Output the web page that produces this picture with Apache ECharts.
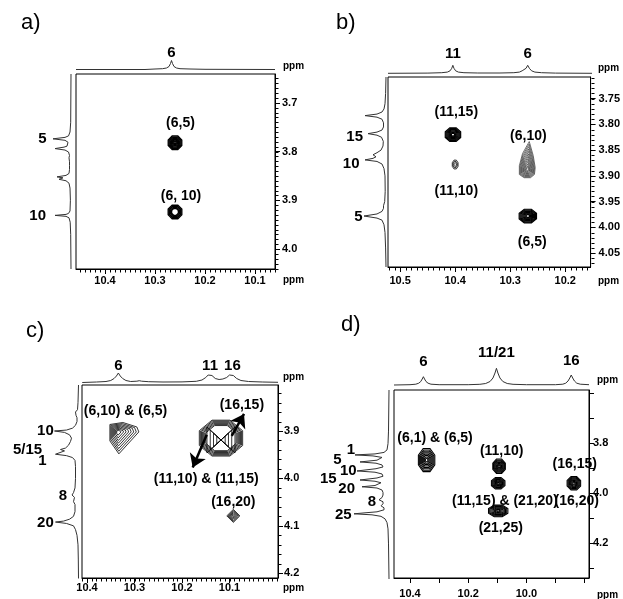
<!DOCTYPE html>
<html><head><meta charset="utf-8">
<script src="https://cdn.jsdelivr.net/npm/echarts@6/dist/echarts.min.js"></script>
<style>html,body{margin:0;padding:0;background:#fff}#c{width:623px;height:599px}</style>
</head><body><div id="c"></div>
<script>
// ================= DATA =================
// ---- panel a ----
const aXTickLabels = [10.4, 10.3, 10.2, 10.1];
const aYTickLabels = [3.7, 3.8, 3.9, 4.0];
const aTopSpectrum = [[10.458,0],[10.32,0],[10.30,0.5],[10.285,0.8],[10.277,1.5],[10.272,3],[10.269,6],[10.267,9],[10.265,6],[10.262,3],[10.257,1.5],[10.25,0.8],[10.23,0.5],[10.20,0.2],[10.06,0]];
const aLeftSpectrum = [[3.641,0],[3.74,0.3],[3.76,1],[3.768,2.5],[3.771,6],[3.774,18],[3.777,6],[3.781,3],[3.785,2.5],[3.789,4],[3.791,7],[3.794,16],[3.797,6],[3.801,2.5],[3.808,1.5],[3.813,2],[3.817,3],[3.821,1.5],[3.829,1.5],[3.833,3],[3.837,1.5],[3.845,2],[3.849,5],[3.852,14],[3.854,8],[3.857,12],[3.860,5],[3.865,2],[3.875,1],[3.90,0.6],[3.922,1],[3.927,2.5],[3.929,5],[3.931,16],[3.933,5],[3.936,2],[3.945,0.8],[3.97,0.3],[4.041,0]];
const aTopPeakLabels = [['6', 10.267]];
const aLeftPeakLabels = [['5', 3.774], ['10', 3.931]];
const aCrossPeaks = [[10.26, 3.782, 0.014, 0.0143], [10.26, 3.924, 0.014, 0.0143]];
const aAnnotations = [['(6,5)', 10.249, 3.742], ['(6, 10)', 10.248, 3.892]];

// ---- panel b ----
const bXTickLabels = [10.5, 10.4, 10.3, 10.2];
const bYTickLabels = [3.75, 3.80, 3.85, 3.90, 3.95, 4.00, 4.05];
const bTopSpectrum = [[10.522,0],[10.45,0.2],[10.425,0.6],[10.415,1.2],[10.41,2.5],[10.407,5],[10.405,8],[10.403,5],[10.40,2.5],[10.395,1.2],[10.385,0.6],[10.36,0.3],[10.32,0.3],[10.295,0.6],[10.285,1.2],[10.28,2.5],[10.273,5],[10.27,8],[10.267,5],[10.263,2.5],[10.257,1.2],[10.245,0.6],[10.22,0.2],[10.154,0]];
const bLeftSpectrum = [[3.708,0],[3.74,0.4],[3.76,1],[3.770,2],[3.776,4],[3.780,9],[3.783,21],[3.786,9],[3.790,4],[3.797,2.5],[3.805,2.5],[3.811,4],[3.815,9],[3.818,18],[3.821,9],[3.825,4.5],[3.833,2.7],[3.842,3],[3.850,5],[3.855,9],[3.859,13],[3.863,10],[3.866,13],[3.869,21],[3.872,9],[3.877,4],[3.886,2],[3.90,1],[3.93,0.8],[3.95,1.3],[3.958,2.5],[3.963,2.5],[3.969,4],[3.974,9],[3.978,22],[3.982,9],[3.986,4],[3.995,2],[4.01,1],[4.04,0.4],[4.077,0]];
const bTopPeakLabels = [['11', 10.405], ['6', 10.27]];
const bLeftPeakLabels = [['15', 3.824], ['10', 3.877], ['5', 3.979]];
const bCrossPeaks = [[10.404, 3.82, 0.0144, 0.0136], [10.40, 3.878, 0.0054, 0.0088], [10.269, 3.888, 0.0144, 0.0156], [10.268, 3.978, 0.0162, 0.0136]];
const bAnnotations = [['(11,15)', 10.398, 3.777], ['(6,10)', 10.267, 3.822], ['(11,10)', 10.398, 3.929], ['(6,5)', 10.260, 4.029]];

// ---- panel c ----
const cXTickLabels = [10.4, 10.3, 10.2, 10.1];
const cYTickLabels = [3.9, 4.0, 4.1, 4.2];
const cTopSpectrum = [[10.41,0],[10.38,0.5],[10.36,1],[10.35,2],[10.343,4],[10.338,6.5],[10.334,9.5],[10.330,6.5],[10.325,4],[10.318,2],[10.308,1],[10.295,1.3],[10.29,1.8],[10.285,1.3],[10.27,0.8],[10.24,0.5],[10.20,0.6],[10.17,1.2],[10.158,2.5],[10.150,5],[10.145,7.5],[10.141,9.5],[10.137,7],[10.130,4],[10.122,3],[10.114,3.5],[10.106,5],[10.100,7.5],[10.096,9.5],[10.092,7],[10.085,4],[10.076,2],[10.06,1],[10.03,0.5],[9.998,0.2]];
const cLeftSpectrum = [[3.803,0],[3.84,0.5],[3.855,1],[3.860,3],[3.863,5],[3.867,2.5],[3.872,1.5],[3.880,1.5],[3.888,3],[3.894,6],[3.898,12],[3.900,24],[3.903,14],[3.908,9],[3.915,7],[3.922,8],[3.930,10],[3.936,13],[3.939,18],[3.942,14],[3.944,12],[3.946,15],[3.949,23],[3.952,12],[3.956,6],[3.962,3.5],[3.975,3],[4.00,3],[4.02,3.5],[4.030,5],[4.035,6.5],[4.040,4],[4.044,4],[4.049,5],[4.055,3.5],[4.070,3.5],[4.080,5],[4.086,9],[4.090,15],[4.092,23],[4.095,12],[4.100,5],[4.108,3],[4.12,1.5],[4.14,0.5],[4.17,0.2],[4.211,0]];
const cTopPeakLabels = [['6', 10.334], ['11', 10.141], ['16', 10.094]];
const cLeftPeakLabels = [['10', 3.90], ['5/15', 3.940], ['1', 3.963], ['8', 4.037], ['20', 4.094]];
const cCrossPeaks = [[10.335, 3.902, 0.021, 0.021], [10.118, 3.915, 0.047, 0.039], [10.118, 3.919, 0.0295, 0.0274], [10.118, 3.919, 0.0295, 0.0274], [10.092, 4.079, 0.0137, 0.0137]];
const cAnnotations = [['(6,10) & (6,5)', 10.319, 3.858], ['(16,15)', 10.074, 3.846], ['(11,10) & (11,15)', 10.149, 4.001], ['(16,20)', 10.092, 4.051]];
const cArrows = [[10.0954, 3.9105, 10.0695, 3.864], [10.148, 3.908, 10.1775, 3.977]];

// ---- panel d ----
const dXTickLabels = [10.4, 10.2, 10.0];
const dYTickLabels = [3.8, 4.0, 4.2];
const dXTicks = [9.8, 9.9, 10.0, 10.1, 10.2, 10.3, 10.4];
const dYTicks = [3.6, 3.7, 3.8, 3.9, 4.0, 4.1, 4.2, 4.3];
const dTopSpectrum = [[10.455,0],[10.40,0.3],[10.38,0.8],[10.37,1.8],[10.363,3.5],[10.358,6],[10.354,8.3],[10.350,6],[10.345,3.5],[10.338,1.8],[10.328,0.8],[10.30,0.3],[10.20,0.3],[10.16,0.7],[10.14,1.5],[10.125,3.5],[10.115,7],[10.108,12],[10.103,16.7],[10.098,12],[10.091,7],[10.081,3.5],[10.066,1.5],[10.046,0.7],[10.00,0.3],[9.90,0.3],[9.875,0.8],[9.865,1.8],[9.857,4],[9.851,7],[9.846,10],[9.841,7],[9.835,4],[9.827,1.8],[9.815,0.8],[9.785,0.3]];
const dLeftSpectrum = [[3.586,0],[3.75,0.5],[3.80,1],[3.825,2],[3.835,5],[3.841,14],[3.845,34],[3.849,16],[3.855,7],[3.861,6],[3.866,12],[3.873,29],[3.878,13],[3.885,7],[3.893,6],[3.900,13],[3.909,32],[3.914,14],[3.921,7],[3.930,6],[3.937,12],[3.945,29],[3.950,14],[3.956,8],[3.962,9],[3.967,14],[3.972,27],[3.977,12],[3.985,7],[3.995,6],[4.005,6],[4.015,7],[4.024,10],[4.032,6],[4.040,6],[4.048,8],[4.056,5],[4.064,5],[4.072,12],[4.076,24],[4.080,35],[4.084,17],[4.090,8],[4.100,4],[4.115,2],[4.14,1],[4.20,0.5],[4.34,0]];
const dTopPeakLabels = [['6', 10.354], ['11/21', 10.103], ['16', 9.846]];
const dLeftPeakLabels = [['1', 3.825], ['5', 3.865], ['10', 3.908], ['15', 3.941], ['20', 3.980], ['8', 4.034], ['25', 4.084]];
const dCrossPeaks = [[10.343, 3.867, 0.0291, 0.0478], [10.094, 3.892, 0.0223, 0.0299], [10.097, 3.96, 0.024, 0.0239], [10.097, 4.071, 0.0343, 0.0239], [9.837, 3.96, 0.024, 0.0279]];
const dAnnotations = [['(6,1) & (6,5)', 10.314, 3.779], ['(11,10)', 10.085, 3.832], ['(16,15)', 9.834, 3.885], ['(11,15) & (21,20)', 10.074, 4.031], ['(16,20)', 9.827, 4.031], ['(21,25)', 10.088, 4.141]];

// ================= STYLE / LAYOUT =================
const FONT = "'Liberation Sans', Arial, Helvetica, sans-serif";
const oct = []; for (let k = 0; k < 8; k++) { const a = (k * 45 + 22.5) * Math.PI / 180; oct.push([1.05 * Math.cos(a), 1.05 * Math.sin(a)]); }
const templates = {
  oct: oct,
  drop: [[0.25,-3.5],[0.75,-1.75],[1,-0.25],[0.9,0.6],[0.4,1],[-0.4,1],[-1,0.6],[-1,-0.5],[-0.6,-2]],
  shield: [[-0.8,-0.75],[0.5,-0.95],[1.9,-0.5],[2.1,0],[0.1,2.2],[-0.8,0.9]],
  diamond: [[0,-1],[1,0],[0,1],[-1,0]],
  wedgeL: [[0,0],[-1,-1],[-1,1]],
  wedgeR: [[0,0],[1,-1],[1,1]]
};
const panels = [
  { // a
    box: {left: 76, top: 74, width: 199, height: 195}, xRange: [10.06, 10.458], yRange: [3.641, 4.041],
    xLabels: aXTickLabels, yLabels: aYTickLabels, xDec: 1, yDec: 1, xMinor: 0.01, yMinor: 0.01, xMargin: 6, yMargin: 7,
    top: {top: 59.5, height: 10, max: 10, data: aTopSpectrum, labels: aTopPeakLabels, dist: [9]},
    left: {left: 50, width: 21, max: 21, data: aLeftSpectrum, labels: aLeftPeakLabels, dist: [24.5, 25]},
    peaks: aCrossPeaks, styles: [{shape:'oct', n:8, min:0.15, lw:1.3}, {shape:'oct', n:4, min:0.5, lw:1.4}],
    ann: aAnnotations, arrows: []
  },
  { // b
    box: {left: 388, top: 77, width: 204, height: 190}, xRange: [10.154, 10.522], yRange: [3.708, 4.077],
    xLabels: bXTickLabels, yLabels: bYTickLabels, xDec: 1, yDec: 2, xMinor: 0.01, yMinor: 0.01, xMargin: 8, yMargin: 8,
    top: {top: 64.3, height: 9, max: 9, data: bTopSpectrum, labels: bTopPeakLabels, dist: [11.5, 11.5]},
    left: {left: 362, width: 24, max: 24, data: bLeftSpectrum, labels: bLeftPeakLabels, dist: [23, 26.5, 23.5]},
    peaks: bCrossPeaks, styles: [{shape:'oct', n:8, min:0.2, lw:1.2}, {shape:'oct', n:3, min:0.4, lw:0.8}, {shape:'drop', n:11, min:0.12, lw:0.7, color:'#333'}, {shape:'oct', n:8, min:0.2, lw:1.2}],
    ann: bAnnotations, arrows: []
  },
  { // c
    box: {left: 82, top: 385, width: 196, height: 193}, xRange: [9.998, 10.4105], yRange: [3.803, 4.21],
    xLabels: cXTickLabels, yLabels: cYTickLabels, xDec: 1, yDec: 1, xMinor: 0.01, yMinor: 0.02, xMargin: 4, yMargin: 6,
    top: {top: 372, height: 10.5, max: 10.5, data: cTopSpectrum, labels: cTopPeakLabels, dist: [9, 9, 9]},
    left: {left: 53.5, width: 25, max: 25, data: cLeftSpectrum, labels: cLeftPeakLabels, dist: [24.7, 36.3, 32, 11.3, 24.7]},
    peaks: cCrossPeaks, styles: [{shape:'shield', n:8, min:0.15, lw:0.8}, {shape:'oct', n:7, min:0.7, lw:0.8}, {shape:'wedgeL', n:4, min:0.3, lw:0.8}, {shape:'wedgeR', n:4, min:0.3, lw:0.8}, {shape:'diamond', n:6, min:0.15, lw:0.8}],
    ann: cAnnotations, arrows: cArrows
  },
  { // d
    box: {left: 394, top: 390, width: 195, height: 189}, xRange: [9.785, 10.455], yRange: [3.586, 4.34],
    xLabels: dXTickLabels, yLabels: dYTickLabels, xTicks: dXTicks, yTicks: dYTicks, xDec: 1, yDec: 1, xMargin: 10, yMargin: 4,
    top: {top: 368, height: 17, max: 17, data: dTopSpectrum, labels: dTopPeakLabels, dist: [15.7, 25, 16.7]},
    left: {left: 353, width: 36, max: 36, data: dLeftSpectrum, labels: dLeftPeakLabels, dist: [34, 47.3, 32.3, 52.3, 34, 13, 37.3]},
    peaks: dCrossPeaks, styles: [0,1,2,3,4].map(() => ({shape:'oct', n:8, min:0.15, lw:1.05})),
    ann: dAnnotations, arrows: []
  }
];
const titleTexts = [
  ['a)', 21, 12, 22, 'normal'], ['b)', 336, 12, 22, 'normal'], ['c)', 26, 320, 22, 'normal'], ['d)', 341, 314, 22, 'normal'],
  ['ppm', 283, 61, 10, 'bold'], ['ppm', 283, 275, 10, 'bold'], ['ppm', 598, 63, 10, 'bold'], ['ppm', 598, 276, 10, 'bold'],
  ['ppm', 283, 372, 10, 'bold'], ['ppm', 283, 583, 10, 'bold'], ['ppm', 597, 375, 10, 'bold'], ['ppm', 597, 590, 10, 'bold']
];
const MAJOR_LEN = 5;
const MINOR_LEN = 3;
const MINOR_COLOR = '#000';

// ================= BUILD =================
const grids = [], xAxes = [], yAxes = [], series = [];
function ticksBetween(min, max, step) {
  const out = []; const s = Math.ceil(min / step - 1e-9), e = Math.floor(max / step + 1e-9);
  for (let k = s; k <= e; k++) out.push(+(k * step).toFixed(4));
  return out;
}
const hidden = {show: false};
function labelScatter(xi, yi, data, label) {
  return {type: 'scatter', xAxisIndex: xi, yAxisIndex: yi, symbol: 'circle', symbolSize: 0, itemStyle: {color: '#000', opacity: 1}, silent: true, animation: false, clip: false,
    label: Object.assign({show: true, formatter: '{b}', fontWeight: 'bold', color: '#000', opacity: 1, textBorderWidth: 0, fontFamily: FONT}, label), labelLayout: {hideOverlap: false}, data};
}
// minor ticks along the bottom (x) and right (y) edges, placed through the axes' scales
function minorTickSeries(xi, yi, P) {
  const data = [];
  if (P.xMinor) ticksBetween(P.xRange[0], P.xRange[1], P.xMinor).forEach(v => data.push([v, P.yRange[1], 0]));
  if (P.yMinor) ticksBetween(P.yRange[0], P.yRange[1], P.yMinor).forEach(v => data.push([P.xRange[0], v, 1]));
  return {type: 'custom', xAxisIndex: xi, yAxisIndex: yi, silent: true, clip: false, animation: false, z: 10,
    dimensions: ['x', 'y', 'k'], data, encode: {x: 0, y: 1},
    renderItem: (params, api) => {
      const p = api.coord([api.value(0), api.value(1)]);
      const isY = api.value(2) === 1;
      const x0 = Math.round(p[0]) + 0.5, y0 = Math.round(p[1]) + 0.5;
      const shape = isY ? {x1: x0, y1: y0, x2: x0 + MINOR_LEN, y2: y0} : {x1: x0, y1: y0, x2: x0, y2: y0 + MINOR_LEN};
      return {type: 'line', shape, style: {stroke: MINOR_COLOR, lineWidth: 1, fill: null}};
    }};
}
panels.forEach(P => {
  // 2D grid
  const g = grids.length;
  grids.push(Object.assign({show: true, borderColor: '#000', borderWidth: 1, backgroundColor: 'transparent'}, P.box));
  const xi = xAxes.length;
  xAxes.push({gridIndex: g, type: 'value', min: P.xRange[0], max: P.xRange[1], inverse: true, position: 'bottom',
    axisLine: {show: true, onZero: false, lineStyle: {color: '#000', width: 1}},
    axisTick: {show: true, length: MAJOR_LEN, customValues: P.xTicks || P.xLabels, lineStyle: {color: '#000'}},
    axisLabel: {show: true, customValues: P.xLabels, formatter: v => (+v).toFixed(P.xDec), fontSize: 11, fontWeight: 'bold', color: '#000', fontFamily: FONT, margin: P.xMargin},
    splitLine: hidden});
  const yi = yAxes.length;
  yAxes.push({gridIndex: g, type: 'value', min: P.yRange[0], max: P.yRange[1], inverse: true, position: 'right',
    axisLine: {show: true, onZero: false, lineStyle: {color: '#000', width: 1}},
    axisTick: {show: true, length: MAJOR_LEN, customValues: P.yTicks || P.yLabels, lineStyle: {color: '#000'}},
    axisLabel: {show: true, customValues: P.yLabels, formatter: v => (+v).toFixed(P.yDec), fontSize: 11, fontWeight: 'bold', color: '#000', fontFamily: FONT, margin: P.yMargin},
    splitLine: hidden});

  if (P.xMinor || P.yMinor) series.push(minorTickSeries(xi, yi, P));

  // contours
  const styles = P.styles;
  series.push({type: 'custom', xAxisIndex: xi, yAxisIndex: yi, silent: true, clip: true, animation: false,
    data: P.peaks.map(p => p.slice()), encode: {x: 0, y: 1},
    renderItem: (params, api) => {
      const st = styles[params.dataIndex];
      const cx = api.value(0), cy = api.value(1), wx = api.value(2), wy = api.value(3);
      const c = api.coord([cx, cy]); const e = api.coord([cx + wx, cy + wy]);
      const sx = Math.abs(e[0] - c[0]), sy = Math.abs(e[1] - c[1]);
      const tpl = templates[st.shape]; const children = [];
      for (let i = 0; i < st.n; i++) {
        const s = st.n === 1 ? 1 : 1 - (1 - st.min) * i / (st.n - 1);
        children.push({type: 'polygon', shape: {points: tpl.map(([u, v]) => [c[0] + u * sx * s, c[1] + v * sy * s])},
          style: {fill: 'none', stroke: st.color || '#000', lineWidth: st.lw}});
      }
      return {type: 'group', children};
    }});
  // arrows
  if (P.arrows.length) series.push({type: 'lines', coordinateSystem: 'cartesian2d', xAxisIndex: xi, yAxisIndex: yi, silent: true, animation: false,
    symbol: ['none', 'arrow'], symbolSize: [0, 13], lineStyle: {color: '#000', width: 2.5, opacity: 1, curveness: 0},
    data: P.arrows.map(a => ({coords: [[a[0], a[1]], [a[2], a[3]]]}))});
  // annotations
  series.push(labelScatter(xi, yi, P.ann.map(a => ({name: a[0], value: [a[1], a[2]]})), {position: 'inside', fontSize: 14}));

  // top spectrum
  const gt = grids.length;
  grids.push({left: P.box.left, width: P.box.width, top: P.top.top, height: P.top.height, show: false});
  const xt = xAxes.length;
  xAxes.push({gridIndex: gt, type: 'value', min: P.xRange[0], max: P.xRange[1], inverse: true, show: false});
  const yt = yAxes.length;
  yAxes.push({gridIndex: gt, type: 'value', min: 0, max: P.top.max, show: false});
  series.push({type: 'line', xAxisIndex: xt, yAxisIndex: yt, data: P.top.data, showSymbol: false, symbol: 'none', silent: true, animation: false, clip: false,
    lineStyle: {color: '#333', width: 1}});
  series.push(labelScatter(xt, yt, P.top.labels.map((l, i) => ({name: l[0], value: [l[1], 0], label: {distance: P.top.dist[i]}})), {position: 'top', fontSize: 15}));

  // left spectrum
  const gl = grids.length;
  grids.push({left: P.left.left, width: P.left.width, top: P.box.top, height: P.box.height, show: false});
  const xl = xAxes.length;
  xAxes.push({gridIndex: gl, type: 'value', min: 0, max: P.left.max, inverse: true, show: false});
  const yl = yAxes.length;
  yAxes.push({gridIndex: gl, type: 'value', min: P.yRange[0], max: P.yRange[1], inverse: true, show: false});
  series.push({type: 'line', xAxisIndex: xl, yAxisIndex: yl, data: P.left.data.map(([p, v]) => [v, p]), showSymbol: false, symbol: 'none', silent: true, animation: false, clip: false,
    lineStyle: {color: '#333', width: 1}});
  series.push(labelScatter(xl, yl, P.left.labels.map((l, i) => ({name: l[0], value: [0, l[1]], label: {distance: P.left.dist[i]}})), {position: 'left', fontSize: 15}));
});

const titles = titleTexts.map(t => ({text: t[0], left: t[1], top: t[2], padding: 0,
  textStyle: {fontSize: t[3], fontWeight: t[4], color: '#000', fontFamily: FONT}}));

const chart = echarts.init(document.getElementById('c'), null, {renderer: 'canvas'});
chart.setOption({animation: false, backgroundColor: '#fff', title: titles, grid: grids, xAxis: xAxes, yAxis: yAxes, series: series});
</script>
</body></html>
